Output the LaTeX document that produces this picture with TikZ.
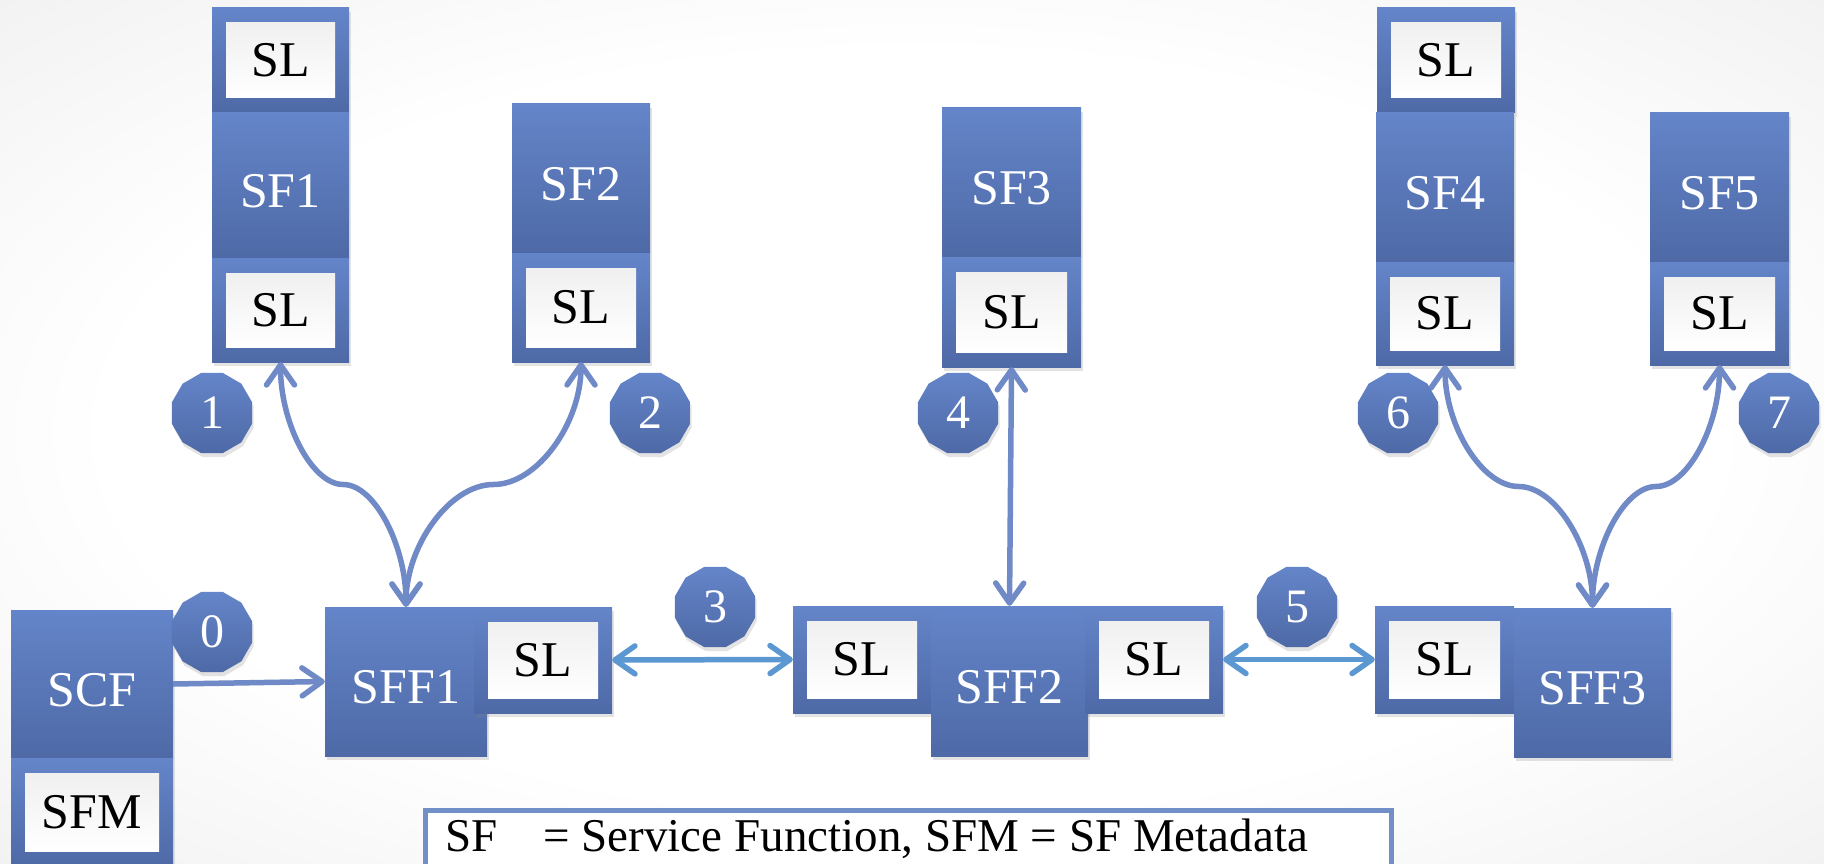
\documentclass[tikz,border=0pt]{standalone}
\usepackage{fontspec}
\setmainfont{Liberation Serif}
\usetikzlibrary{arrows.meta,shapes.geometric,shadows,calc}
\definecolor{btop}{HTML}{6485C9}
\definecolor{bbot}{HTML}{4E69A6}
\definecolor{cconn}{HTML}{6F8AC6}
\definecolor{chconn}{HTML}{5B97D1}
\definecolor{lborder}{HTML}{7290C8}
\definecolor{bgedge}{HTML}{E4E4E4}
\definecolor{bgcorner}{HTML}{DEDEDE}
\pgfdeclareradialshading{bgshade}{\pgfpoint{0bp}{0bp}}{color(0bp)=(white); color(22bp)=(white); color(50bp)=(bgedge); color(71bp)=(bgcorner)}
\tikzset{
  bluebox/.style={rectangle, inner sep=0pt, top color=btop, bottom color=bbot, draw=none,
    drop shadow={shadow xshift=1.5pt, shadow yshift=-4pt, opacity=0.22}},
  whitebox/.style={rectangle, inner sep=0pt, top color=black!6, bottom color=white, draw=none,
    text=black, font=\fontsize{50}{54}\selectfont},
  wlabel/.style={inner sep=0pt, text=white, font=\fontsize{50}{54}\selectfont},
  numc/.style={regular polygon, regular polygon sides=12, minimum size=83pt, inner sep=0pt,
    top color=btop, bottom color=bbot, draw=none, text=white,
    font=\fontsize{48}{52}\selectfont,
    drop shadow={shadow xshift=1.5pt, shadow yshift=-4pt, opacity=0.22}},
  conn/.style={draw=cconn, line width=5.5pt},
  sconn/.style={conn, arrows={-Straight Barb[length=20pt,width=28pt,round]}},
  dconn/.style={conn, arrows={Straight Barb[length=20pt,width=28pt,round]-Straight Barb[length=20pt,width=28pt,round]}},
}
% name, cx, cy, w, h, text
\newcommand\slnode[6]{%
  \node[bluebox, minimum width=#4pt, minimum height=#5pt] (#1) at (#2,#3) {};
  \node[whitebox, minimum width=#4pt-28pt, minimum height=#5pt-30pt] (#1in) at (#2,#3) {#6};
}
\newcommand\sfnode[6]{%
  \node[bluebox, minimum width=#4pt, minimum height=#5pt] (#1) at (#2,#3) {};
  \node[wlabel] (#1t) at ($(#1.center)+(0,6)$) {#6};
}
\newcommand\curvecon[2]{%
  \draw[dconn] let \p1=(#1), \p2=(#2) in
    (\p1) .. controls (\x1,{0.75*\y1+0.25*\y2}) and ({0.75*\x1+0.25*\x2},{0.5*\y1+0.5*\y2})
    .. ({0.5*\x1+0.5*\x2},{0.5*\y1+0.5*\y2})
    .. controls ({0.25*\x1+0.75*\x2},{0.5*\y1+0.5*\y2}) and (\x2,{0.25*\y1+0.75*\y2}) .. (\p2);
}
\begin{document}
\begin{tikzpicture}[x=1pt,y=-1pt]
\useasboundingbox (0,0) rectangle (1824,864);
\clip (0,0) rectangle (1824,864);
\fill[shading=bgshade] (0,0) rectangle (1824,864);

% top row
\slnode{slt1}{280.5}{60.5}{137}{105}{SL}
\sfnode{sf1}{280.5}{185.5}{137}{145}{SF1}
\slnode{sl1}{280.5}{310}{137}{104}{SL}

\sfnode{sf2}{581}{178.5}{138}{149}{SF2}
\slnode{sl2}{581}{307.5}{138}{109}{SL}

\sfnode{sf3}{1011.5}{182.5}{139}{149}{SF3}
\slnode{sl3}{1011.5}{312}{139}{110}{SL}

\slnode{slt4}{1446}{60.5}{138}{105}{SL}
\sfnode{sf4}{1445}{187.5}{138}{149}{SF4}
\slnode{sl4}{1445}{313.5}{138}{103}{SL}

\sfnode{sf5}{1719.5}{187.5}{139}{149}{SF5}
\slnode{sl5}{1719.5}{313.5}{139}{103}{SL}

% bottom row
\sfnode{scf}{92}{684}{162}{148}{SCF}
\slnode{sfm}{92}{812}{162}{108}{SFM}

\sfnode{sff1}{406}{681.5}{162}{149}{SFF1}
\slnode{slb1}{543}{660}{138}{106}{SL}

\slnode{slb2}{862}{659.5}{138}{107}{SL}
\sfnode{sff2}{1009.5}{681}{157}{150}{SFF2}
\slnode{slb3}{1154}{659.5}{138}{107}{SL}

\slnode{slb4}{1444.5}{659.5}{139}{107}{SL}
\sfnode{sff3}{1592.5}{682.5}{157}{149}{SFF3}

% legend
\node[draw=lborder, line width=5pt, fill=white, minimum width=966.5pt, minimum height=120pt, inner sep=0pt] (legend) at (908.25,870.5) {};
\node[anchor=base west, inner sep=0pt, font=\fontsize{47}{51}\selectfont] (legtext) at (445,851) {SF\hspace{46pt}= Service Function, SFM = SF Metadata};

% connectors
\draw[sconn] (scf.east) -- (sff1.west);
\curvecon{sff1.north}{sl1.south}
\curvecon{sff1.north}{sl2.south}
\draw[dconn] (sff2.north) -- (sl3.south);
\curvecon{sff3.north}{sl4.south}
\curvecon{sff3.north}{sl5.south}
\draw[dconn, draw=chconn] (slb1.east) -- (slb2.west);
\draw[dconn, draw=chconn] (slb3.east) -- (slb4.west);

% step numbers
\node[numc] (n0) at (212,632) {0};
\node[numc] (n1) at (212,413) {1};
\node[numc] (n2) at (650,413) {2};
\node[numc] (n3) at (715,607) {3};
\node[numc] (n4) at (958,413) {4};
\node[numc] (n5) at (1297,607) {5};
\node[numc] (n6) at (1398,413) {6};
\node[numc] (n7) at (1779,413) {7};
\end{tikzpicture}
\end{document}
